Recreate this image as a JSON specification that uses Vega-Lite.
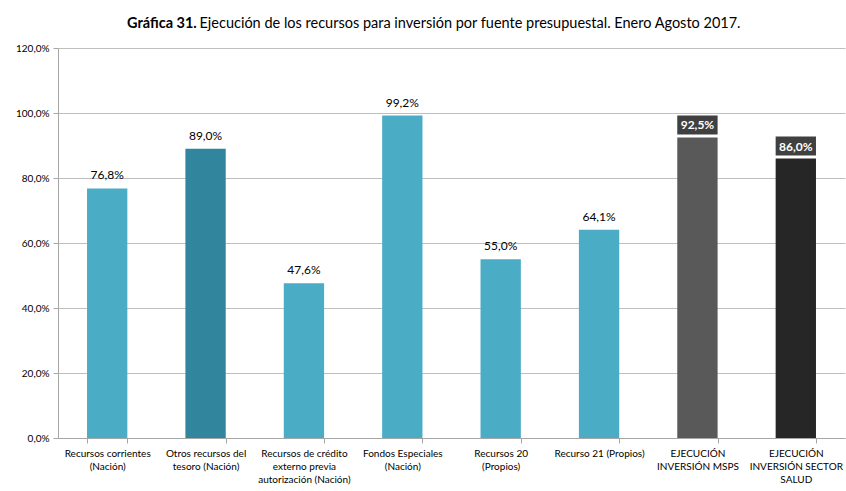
{
  "$schema": "https://vega.github.io/schema/vega-lite/v6.json",
  "width": 787,
  "height": 390,
  "autosize": "none",
  "padding": {"left": 58, "top": 48, "right": 1, "bottom": 53},
  "background": "white",
  "config": {
    "locale": {"number": {"decimal": ",", "thousands": ".", "grouping": [3], "currency": ["", "€"]}},
    "font": "Lato",
    "view": {"stroke": null}
  },
  "title": {
    "text": "Gráfica 31.",
    "subtitle": "\u200b\u2003\u2003\u2003\u2003\u2003\u2003\u2002Ejecución de los recursos para inversión por fuente presupuestal. Enero Agosto 2017.",
    "anchor": "start",
    "frame": "group",
    "dx": 69,
    "offset": 12,
    "font": "Lato",
    "fontSize": 14.5,
    "fontWeight": "bold",
    "lineHeight": 14.5,
    "subtitleFont": "Lato",
    "subtitleFontSize": 14.5,
    "subtitleFontWeight": "normal",
    "subtitleLineHeight": 14.5,
    "subtitlePadding": -14.5,
    "color": "black",
    "subtitleColor": "black"
  },
  "data": {
    "values": [
      {"fuente": "Recursos corrientes\n(Nación)", "valor": 0.768, "grupo": "a"},
      {"fuente": "Otros recursos del\ntesoro (Nación)", "valor": 0.890, "grupo": "b"},
      {"fuente": "Recursos de crédito\nexterno previa\nautorización (Nación)", "valor": 0.476, "grupo": "a"},
      {"fuente": "Fondos Especiales\n(Nación)", "valor": 0.992, "grupo": "a"},
      {"fuente": "Recursos 20\n(Propios)", "valor": 0.550, "grupo": "a"},
      {"fuente": "Recurso 21 (Propios)", "valor": 0.641, "grupo": "a"},
      {"fuente": "EJECUCIÓN\nINVERSIÓN  MSPS", "valor": 0.925, "grupo": "c"},
      {"fuente": "EJECUCIÓN\nINVERSIÓN SECTOR\nSALUD", "valor": 0.860, "grupo": "d"}
    ]
  },
  "encoding": {
    "x": {
      "field": "fuente",
      "type": "nominal",
      "sort": null,
      "title": null,
      "scale": {"paddingInner": 0.59, "paddingOuter": 0.295},
      "axis": {
        "labelAngle": 0,
        "labelExpr": "split(datum.label, '\\n')",
        "labelFont": "Lato",
        "labelFontSize": 10,
        "labelColor": "black",
        "labelLineHeight": 13,
        "labelPadding": 5,
        "labelLimit": 0,
        "tickBand": "extent",
        "tickSize": 5,
        "tickColor": "#A6A6A6",
        "domainColor": "#A6A6A6",
        "grid": false
      }
    },
    "y": {
      "field": "valor",
      "type": "quantitative",
      "title": null,
      "scale": {"domain": [0, 1.2], "nice": false},
      "axis": {
        "format": ".1%",
        "values": [0, 0.2, 0.4, 0.6, 0.8, 1.0, 1.2],
        "labelFont": "Lato",
        "labelFontSize": 10,
        "labelColor": "black",
        "labelPadding": 4,
        "tickSize": 5,
        "tickColor": "#A6A6A6",
        "domainColor": "#A6A6A6",
        "gridColor": "#BFBFBF",
        "gridWidth": 1
      }
    }
  },
  "layer": [
    {
      "mark": {"type": "bar"},
      "encoding": {
        "color": {
          "field": "grupo",
          "type": "nominal",
          "legend": null,
          "scale": {"domain": ["a", "b", "c", "d"], "range": ["#4BACC6", "#31859C", "#595959", "#262626"]}
        }
      }
    },
    {
      "transform": [{"filter": "datum.grupo == 'a' || datum.grupo == 'b'"}],
      "mark": {"type": "text", "baseline": "bottom", "dy": -6, "fontSize": 12, "font": "Lato", "color": "black"},
      "encoding": {"text": {"field": "valor", "format": ".1%"}}
    },
    {
      "transform": [{"filter": "datum.grupo == 'c' || datum.grupo == 'd'"}],
      "mark": {"type": "bar", "color": "#404040", "yOffset": -22, "y2Offset": -3},
      "encoding": {"y2": {"field": "valor"}}
    },
    {
      "transform": [{"filter": "datum.grupo == 'c' || datum.grupo == 'd'"}],
      "mark": {"type": "text", "baseline": "middle", "dy": -12, "fontSize": 12, "font": "Lato", "fontWeight": "bold", "color": "white"},
      "encoding": {"text": {"field": "valor", "format": ".1%"}}
    }
  ]
}
